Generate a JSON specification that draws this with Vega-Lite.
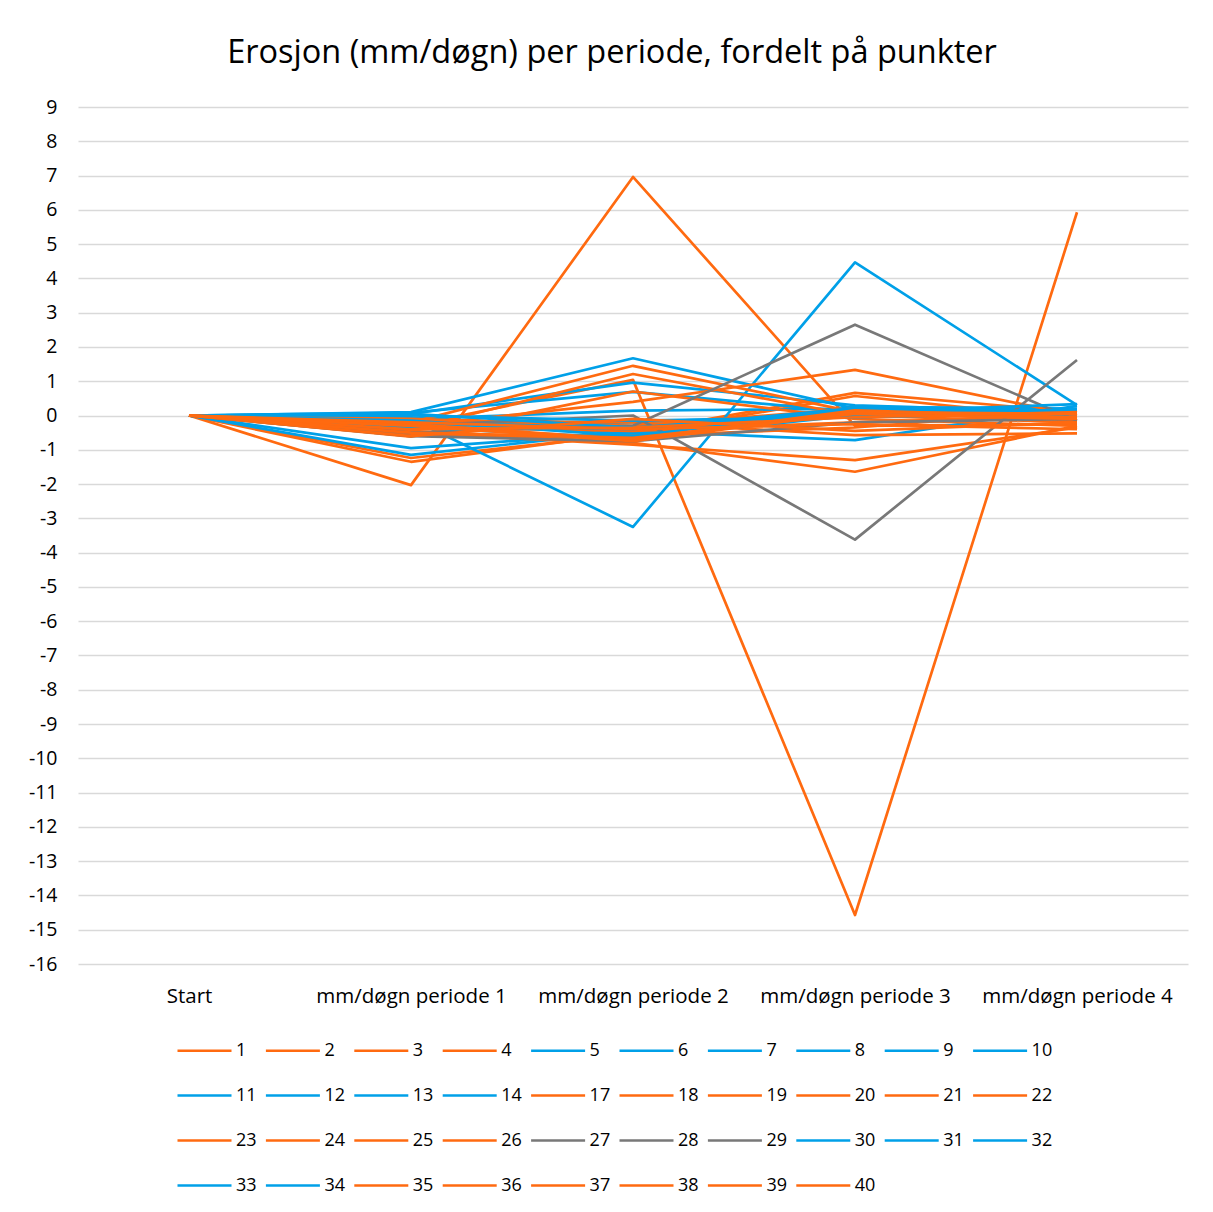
{
  "$schema": "https://vega.github.io/schema/vega-lite/v6.json",
  "width": 1110,
  "height": 857,
  "autosize": {"type": "none"},
  "padding": {"left": 78, "top": 107, "right": 25, "bottom": 248},
  "background": "white",
  "title": {
    "text": "Erosjon (mm/døgn) per periode, fordelt på punkter",
    "font": "Open Sans",
    "fontSize": 32.5,
    "fontWeight": "normal",
    "color": "#000000",
    "anchor": "middle",
    "dx": -21,
    "offset": 28
  },
  "data": {
    "values": [
      {"punkt":"1","periode":"Start","verdi":0},{"punkt":"1","periode":"mm/døgn periode 1","verdi":-0.30},{"punkt":"1","periode":"mm/døgn periode 2","verdi":1.04},{"punkt":"1","periode":"mm/døgn periode 3","verdi":-14.57},{"punkt":"1","periode":"mm/døgn periode 4","verdi":5.93},
      {"punkt":"2","periode":"Start","verdi":0},{"punkt":"2","periode":"mm/døgn periode 1","verdi":-1.35},{"punkt":"2","periode":"mm/døgn periode 2","verdi":-0.50},{"punkt":"2","periode":"mm/døgn periode 3","verdi":0.66},{"punkt":"2","periode":"mm/døgn periode 4","verdi":0.10},
      {"punkt":"3","periode":"Start","verdi":0},{"punkt":"3","periode":"mm/døgn periode 1","verdi":-2.03},{"punkt":"3","periode":"mm/døgn periode 2","verdi":6.96},{"punkt":"3","periode":"mm/døgn periode 3","verdi":-0.30},{"punkt":"3","periode":"mm/døgn periode 4","verdi":-0.25},
      {"punkt":"4","periode":"Start","verdi":0},{"punkt":"4","periode":"mm/døgn periode 1","verdi":-1.24},{"punkt":"4","periode":"mm/døgn periode 2","verdi":-0.55},{"punkt":"4","periode":"mm/døgn periode 3","verdi":0.57},{"punkt":"4","periode":"mm/døgn periode 4","verdi":-0.10},
      {"punkt":"5","periode":"Start","verdi":0},{"punkt":"5","periode":"mm/døgn periode 1","verdi":0.10},{"punkt":"5","periode":"mm/døgn periode 2","verdi":1.67},{"punkt":"5","periode":"mm/døgn periode 3","verdi":0.20},{"punkt":"5","periode":"mm/døgn periode 4","verdi":0.05},
      {"punkt":"6","periode":"Start","verdi":0},{"punkt":"6","periode":"mm/døgn periode 1","verdi":0.05},{"punkt":"6","periode":"mm/døgn periode 2","verdi":0.96},{"punkt":"6","periode":"mm/døgn periode 3","verdi":0.30},{"punkt":"6","periode":"mm/døgn periode 4","verdi":0.10},
      {"punkt":"7","periode":"Start","verdi":0},{"punkt":"7","periode":"mm/døgn periode 1","verdi":-1.15},{"punkt":"7","periode":"mm/døgn periode 2","verdi":-0.45},{"punkt":"7","periode":"mm/døgn periode 3","verdi":-0.72},{"punkt":"7","periode":"mm/døgn periode 4","verdi":0.28},
      {"punkt":"8","periode":"Start","verdi":0},{"punkt":"8","periode":"mm/døgn periode 1","verdi":-0.10},{"punkt":"8","periode":"mm/døgn periode 2","verdi":-3.25},{"punkt":"8","periode":"mm/døgn periode 3","verdi":4.47},{"punkt":"8","periode":"mm/døgn periode 4","verdi":0.30},
      {"punkt":"9","periode":"Start","verdi":0},{"punkt":"9","periode":"mm/døgn periode 1","verdi":0.08},{"punkt":"9","periode":"mm/døgn periode 2","verdi":0.69},{"punkt":"9","periode":"mm/døgn periode 3","verdi":0.10},{"punkt":"9","periode":"mm/døgn periode 4","verdi":0.00},
      {"punkt":"10","periode":"Start","verdi":0},{"punkt":"10","periode":"mm/døgn periode 1","verdi":-0.95},{"punkt":"10","periode":"mm/døgn periode 2","verdi":-0.50},{"punkt":"10","periode":"mm/døgn periode 3","verdi":0.05},{"punkt":"10","periode":"mm/døgn periode 4","verdi":0.15},
      {"punkt":"11","periode":"Start","verdi":0},{"punkt":"11","periode":"mm/døgn periode 1","verdi":-0.10},{"punkt":"11","periode":"mm/døgn periode 2","verdi":0.14},{"punkt":"11","periode":"mm/døgn periode 3","verdi":0.20},{"punkt":"11","periode":"mm/døgn periode 4","verdi":0.10},
      {"punkt":"12","periode":"Start","verdi":0},{"punkt":"12","periode":"mm/døgn periode 1","verdi":-0.20},{"punkt":"12","periode":"mm/døgn periode 2","verdi":-0.30},{"punkt":"12","periode":"mm/døgn periode 3","verdi":0.15},{"punkt":"12","periode":"mm/døgn periode 4","verdi":-0.13},
      {"punkt":"13","periode":"Start","verdi":0},{"punkt":"13","periode":"mm/døgn periode 1","verdi":-0.05},{"punkt":"13","periode":"mm/døgn periode 2","verdi":-0.55},{"punkt":"13","periode":"mm/døgn periode 3","verdi":0.25},{"punkt":"13","periode":"mm/døgn periode 4","verdi":0.20},
      {"punkt":"14","periode":"Start","verdi":0},{"punkt":"14","periode":"mm/døgn periode 1","verdi":-0.30},{"punkt":"14","periode":"mm/døgn periode 2","verdi":-0.20},{"punkt":"14","periode":"mm/døgn periode 3","verdi":0.05},{"punkt":"14","periode":"mm/døgn periode 4","verdi":0.05},
      {"punkt":"17","periode":"Start","verdi":0},{"punkt":"17","periode":"mm/døgn periode 1","verdi":-0.20},{"punkt":"17","periode":"mm/døgn periode 2","verdi":1.45},{"punkt":"17","periode":"mm/døgn periode 3","verdi":0.10},{"punkt":"17","periode":"mm/døgn periode 4","verdi":0.05},
      {"punkt":"18","periode":"Start","verdi":0},{"punkt":"18","periode":"mm/døgn periode 1","verdi":-0.40},{"punkt":"18","periode":"mm/døgn periode 2","verdi":1.21},{"punkt":"18","periode":"mm/døgn periode 3","verdi":0.00},{"punkt":"18","periode":"mm/døgn periode 4","verdi":-0.20},
      {"punkt":"19","periode":"Start","verdi":0},{"punkt":"19","periode":"mm/døgn periode 1","verdi":-0.62},{"punkt":"19","periode":"mm/døgn periode 2","verdi":0.70},{"punkt":"19","periode":"mm/døgn periode 3","verdi":-0.10},{"punkt":"19","periode":"mm/døgn periode 4","verdi":-0.30},
      {"punkt":"20","periode":"Start","verdi":0},{"punkt":"20","periode":"mm/døgn periode 1","verdi":-0.30},{"punkt":"20","periode":"mm/døgn periode 2","verdi":0.40},{"punkt":"20","periode":"mm/døgn periode 3","verdi":1.33},{"punkt":"20","periode":"mm/døgn periode 4","verdi":0.00},
      {"punkt":"21","periode":"Start","verdi":0},{"punkt":"21","periode":"mm/døgn periode 1","verdi":-0.50},{"punkt":"21","periode":"mm/døgn periode 2","verdi":-0.85},{"punkt":"21","periode":"mm/døgn periode 3","verdi":-1.30},{"punkt":"21","periode":"mm/døgn periode 4","verdi":-0.35},
      {"punkt":"22","periode":"Start","verdi":0},{"punkt":"22","periode":"mm/døgn periode 1","verdi":-0.45},{"punkt":"22","periode":"mm/døgn periode 2","verdi":-0.80},{"punkt":"22","periode":"mm/døgn periode 3","verdi":-1.64},{"punkt":"22","periode":"mm/døgn periode 4","verdi":-0.30},
      {"punkt":"23","periode":"Start","verdi":0},{"punkt":"23","periode":"mm/døgn periode 1","verdi":-0.15},{"punkt":"23","periode":"mm/døgn periode 2","verdi":-0.20},{"punkt":"23","periode":"mm/døgn periode 3","verdi":-0.57},{"punkt":"23","periode":"mm/døgn periode 4","verdi":-0.52},
      {"punkt":"24","periode":"Start","verdi":0},{"punkt":"24","periode":"mm/døgn periode 1","verdi":-0.55},{"punkt":"24","periode":"mm/døgn periode 2","verdi":-0.60},{"punkt":"24","periode":"mm/døgn periode 3","verdi":-0.35},{"punkt":"24","periode":"mm/døgn periode 4","verdi":0.15},
      {"punkt":"25","periode":"Start","verdi":0},{"punkt":"25","periode":"mm/døgn periode 1","verdi":-0.10},{"punkt":"25","periode":"mm/døgn periode 2","verdi":-0.30},{"punkt":"25","periode":"mm/døgn periode 3","verdi":0.20},{"punkt":"25","periode":"mm/døgn periode 4","verdi":-0.15},
      {"punkt":"26","periode":"Start","verdi":0},{"punkt":"26","periode":"mm/døgn periode 1","verdi":-0.35},{"punkt":"26","periode":"mm/døgn periode 2","verdi":-0.45},{"punkt":"26","periode":"mm/døgn periode 3","verdi":-0.20},{"punkt":"26","periode":"mm/døgn periode 4","verdi":0.00},
      {"punkt":"27","periode":"Start","verdi":0},{"punkt":"27","periode":"mm/døgn periode 1","verdi":-0.50},{"punkt":"27","periode":"mm/døgn periode 2","verdi":-0.30},{"punkt":"27","periode":"mm/døgn periode 3","verdi":2.65},{"punkt":"27","periode":"mm/døgn periode 4","verdi":-0.15},
      {"punkt":"28","periode":"Start","verdi":0},{"punkt":"28","periode":"mm/døgn periode 1","verdi":-0.30},{"punkt":"28","periode":"mm/døgn periode 2","verdi":0.00},{"punkt":"28","periode":"mm/døgn periode 3","verdi":-3.62},{"punkt":"28","periode":"mm/døgn periode 4","verdi":1.62},
      {"punkt":"29","periode":"Start","verdi":0},{"punkt":"29","periode":"mm/døgn periode 1","verdi":-0.60},{"punkt":"29","periode":"mm/døgn periode 2","verdi":-0.75},{"punkt":"29","periode":"mm/døgn periode 3","verdi":-0.20},{"punkt":"29","periode":"mm/døgn periode 4","verdi":-0.10},
      {"punkt":"30","periode":"Start","verdi":0},{"punkt":"30","periode":"mm/døgn periode 1","verdi":0.05},{"punkt":"30","periode":"mm/døgn periode 2","verdi":-0.35},{"punkt":"30","periode":"mm/døgn periode 3","verdi":0.10},{"punkt":"30","periode":"mm/døgn periode 4","verdi":0.33},
      {"punkt":"31","periode":"Start","verdi":0},{"punkt":"31","periode":"mm/døgn periode 1","verdi":-0.15},{"punkt":"31","periode":"mm/døgn periode 2","verdi":-0.60},{"punkt":"31","periode":"mm/døgn periode 3","verdi":0.18},{"punkt":"31","periode":"mm/døgn periode 4","verdi":0.12},
      {"punkt":"32","periode":"Start","verdi":0},{"punkt":"32","periode":"mm/døgn periode 1","verdi":0.00},{"punkt":"32","periode":"mm/døgn periode 2","verdi":-0.15},{"punkt":"32","periode":"mm/døgn periode 3","verdi":-0.05},{"punkt":"32","periode":"mm/døgn periode 4","verdi":0.08},
      {"punkt":"33","periode":"Start","verdi":0},{"punkt":"33","periode":"mm/døgn periode 1","verdi":-0.25},{"punkt":"33","periode":"mm/døgn periode 2","verdi":-0.40},{"punkt":"33","periode":"mm/døgn periode 3","verdi":0.22},{"punkt":"33","periode":"mm/døgn periode 4","verdi":-0.05},
      {"punkt":"34","periode":"Start","verdi":0},{"punkt":"34","periode":"mm/døgn periode 1","verdi":-0.35},{"punkt":"34","periode":"mm/døgn periode 2","verdi":-0.65},{"punkt":"34","periode":"mm/døgn periode 3","verdi":0.00},{"punkt":"34","periode":"mm/døgn periode 4","verdi":0.18},
      {"punkt":"35","periode":"Start","verdi":0},{"punkt":"35","periode":"mm/døgn periode 1","verdi":-0.25},{"punkt":"35","periode":"mm/døgn periode 2","verdi":-0.70},{"punkt":"35","periode":"mm/døgn periode 3","verdi":0.15},{"punkt":"35","periode":"mm/døgn periode 4","verdi":-0.05},
      {"punkt":"36","periode":"Start","verdi":0},{"punkt":"36","periode":"mm/døgn periode 1","verdi":-0.60},{"punkt":"36","periode":"mm/døgn periode 2","verdi":-0.10},{"punkt":"36","periode":"mm/døgn periode 3","verdi":-0.45},{"punkt":"36","periode":"mm/døgn periode 4","verdi":-0.20},
      {"punkt":"37","periode":"Start","verdi":0},{"punkt":"37","periode":"mm/døgn periode 1","verdi":-0.40},{"punkt":"37","periode":"mm/døgn periode 2","verdi":-0.35},{"punkt":"37","periode":"mm/døgn periode 3","verdi":-0.05},{"punkt":"37","periode":"mm/døgn periode 4","verdi":0.10},
      {"punkt":"38","periode":"Start","verdi":0},{"punkt":"38","periode":"mm/døgn periode 1","verdi":-0.50},{"punkt":"38","periode":"mm/døgn periode 2","verdi":-0.65},{"punkt":"38","periode":"mm/døgn periode 3","verdi":0.05},{"punkt":"38","periode":"mm/døgn periode 4","verdi":-0.10},
      {"punkt":"39","periode":"Start","verdi":0},{"punkt":"39","periode":"mm/døgn periode 1","verdi":-0.20},{"punkt":"39","periode":"mm/døgn periode 2","verdi":-0.40},{"punkt":"39","periode":"mm/døgn periode 3","verdi":-0.25},{"punkt":"39","periode":"mm/døgn periode 4","verdi":-0.40},
      {"punkt":"40","periode":"Start","verdi":0},{"punkt":"40","periode":"mm/døgn periode 1","verdi":-0.30},{"punkt":"40","periode":"mm/døgn periode 2","verdi":-0.75},{"punkt":"40","periode":"mm/døgn periode 3","verdi":0.10},{"punkt":"40","periode":"mm/døgn periode 4","verdi":0.05}
    ]
  },
  "mark": {"type": "line", "strokeWidth": 2.7, "strokeJoin": "round"},
  "encoding": {
    "x": {
      "field": "periode",
      "type": "ordinal",
      "sort": ["Start", "mm/døgn periode 1", "mm/døgn periode 2", "mm/døgn periode 3", "mm/døgn periode 4"],
      "scale": {"type": "point", "padding": 0.5},
      "axis": {
        "title": null,
        "labelAngle": 0,
        "labelFont": "Open Sans",
        "labelFontSize": 20.5,
        "labelColor": "#000000",
        "labelPadding": 22,
        "labelLimit": 400,
        "labelOverlap": false,
        "ticks": false,
        "tickSize": 0,
        "domain": false,
        "grid": false
      }
    },
    "y": {
      "field": "verdi",
      "type": "quantitative",
      "scale": {"domain": [-16, 9], "nice": false, "zero": false},
      "axis": {
        "title": null,
        "values": [-16, -15, -14, -13, -12, -11, -10, -9, -8, -7, -6, -5, -4, -3, -2, -1, 0, 1, 2, 3, 4, 5, 6, 7, 8, 9],
        "labelExpr": "'' + datum.value",
        "labelFont": "Open Sans",
        "labelFontSize": 19.5,
        "labelColor": "#000000",
        "labelPadding": 21,
        "ticks": false,
        "tickSize": 0,
        "domain": false,
        "grid": true,
        "gridColor": "#d9d9d9",
        "gridWidth": 1.5
      }
    },
    "color": {
      "field": "punkt",
      "type": "nominal",
      "scale": {
        "domain": ["1","2","3","4","5","6","7","8","9","10","11","12","13","14","17","18","19","20","21","22","23","24","25","26","27","28","29","30","31","32","33","34","35","36","37","38","39","40"],
        "range": ["#FF6A10","#FF6A10","#FF6A10","#FF6A10","#00A0E8","#00A0E8","#00A0E8","#00A0E8","#00A0E8","#00A0E8","#00A0E8","#00A0E8","#00A0E8","#00A0E8","#FF6A10","#FF6A10","#FF6A10","#FF6A10","#FF6A10","#FF6A10","#FF6A10","#FF6A10","#FF6A10","#FF6A10","#787878","#787878","#787878","#00A0E8","#00A0E8","#00A0E8","#00A0E8","#00A0E8","#FF6A10","#FF6A10","#FF6A10","#FF6A10","#FF6A10","#FF6A10"]
      },
      "legend": {
        "title": null,
        "orient": "none",
        "legendX": 98,
        "legendY": 915,
        "direction": "horizontal",
        "columns": 10,
        "symbolLimit": 0,
        "symbolType": "stroke",
        "symbolSize": 2916,
        "symbolStrokeWidth": 2.7,
        "labelFont": "Open Sans",
        "labelFontSize": 18,
        "labelColor": "#000000",
        "labelOffset": 3,
        "columnPadding": 3.4,
        "rowPadding": 7,
        "labelLimit": 100
      }
    }
  },
  "config": {
    "view": {"stroke": null}
  }
}
